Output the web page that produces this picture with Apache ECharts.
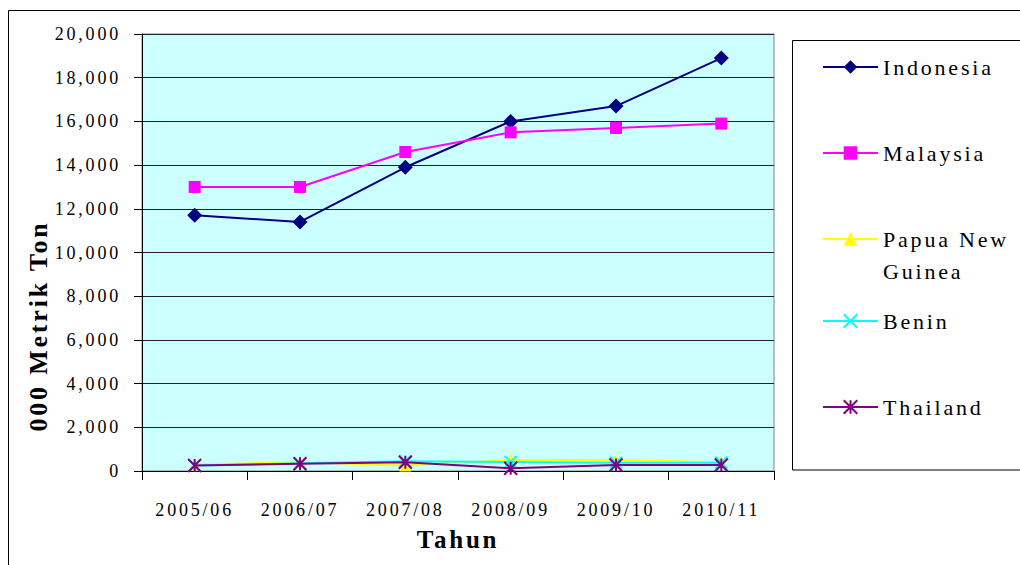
<!DOCTYPE html>
<html>
<head>
<meta charset="utf-8">
<script src="https://cdn.jsdelivr.net/npm/echarts@6/dist/echarts.min.js"></script>
<style>
  html, body { margin: 0; padding: 0; background: #fff; }
  #chart { width: 1020px; height: 565px; }
  #chart svg text { letter-spacing: 2.8px; }
</style>
</head>
<body>
<div id="chart"></div>
<script>
const categories = ['2005/06', '2006/07', '2007/08', '2008/09', '2009/10', '2010/11'];
const indonesia = [11700, 11400, 13900, 16000, 16700, 18900];
const malaysia = [13000, 13000, 14600, 15500, 15700, 15900];
const papuaNewGuinea = [300, 400, 250, 500, 500, 400];
const benin = [250, 350, 450, 410, 380, 380];
const thailand = [250, 330, 400, 125, 275, 275];

const seriesNames = ['Indonesia', 'Malaysia', 'Papua New Guinea', 'Benin', 'Thailand'];
const seriesValues = [indonesia, malaysia, papuaNewGuinea, benin, thailand];
const seriesColors = ['#000080', '#FF00FF', '#FFFF00', '#00FFFF', '#800080'];
const seriesSymbols = [
  'diamond',
  'rect',
  'triangle',
  'path://M0,0L10,10M10,0L0,10',
  'path://M5,0L5,10M0,0L10,10M10,0L0,10'
];
const symbolSizes = [15, 12, 12, 12, 13];
const legendTops = [51, 137, 191, 305, 391];

const FONT = '"Liberation Serif", "Times New Roman", serif';

const chart = echarts.init(document.getElementById('chart'), null, { renderer: 'svg' });

const series = seriesNames.map((name, i) => {
  const isPath = seriesSymbols[i].startsWith('path://');
  return {
    name: name,
    type: 'line',
    data: seriesValues[i],
    symbol: seriesSymbols[i],
    symbolSize: symbolSizes[i],
    showAllSymbol: true,
    lineStyle: { color: seriesColors[i], width: 2 },
    itemStyle: isPath
      ? { color: seriesColors[i], borderColor: seriesColors[i], borderWidth: 2 }
      : { color: seriesColors[i], borderWidth: 0 },
    emphasis: { disabled: true },
    z: 2 + i
  };
});

const legends = seriesNames.map((name, i) => ({
  data: [name],
  orient: 'vertical',
  left: 822,
  top: legendTops[i],
  padding: 0,
  itemWidth: 55,
  itemHeight: 17,
  formatter: n => n === 'Papua New Guinea' ? '\nPapua New\nGuinea' : n,
  textStyle: { fontFamily: FONT, fontSize: 22, color: '#000', lineHeight: 32 }
}));

chart.setOption({
  animation: false,
  backgroundColor: '#fff',
  grid: {
    left: 142, right: 246, top: 34, bottom: 94,
    show: true, backgroundColor: '#CCFFFF', borderColor: '#808080', borderWidth: 1
  },
  legend: legends,
  xAxis: {
    type: 'category',
    data: categories,
    boundaryGap: true,
    name: 'Tahun',
    nameLocation: 'middle',
    nameGap: 56,
    nameTextStyle: { fontFamily: FONT, fontSize: 25, fontWeight: 'bold', color: '#000' },
    axisLine: { lineStyle: { color: '#000', width: 1 } },
    axisTick: { show: true, length: 9, inside: false, lineStyle: { color: '#000' } },
    axisLabel: { margin: 30, fontFamily: FONT, fontSize: 18, color: '#000' }
  },
  yAxis: {
    type: 'value',
    min: 0, max: 20000, interval: 2000,
    axisLine: { show: true, lineStyle: { color: '#000', width: 1 } },
    axisTick: { show: true, length: 8, inside: false, lineStyle: { color: '#000' } },
    axisLabel: {
      margin: 21, fontFamily: FONT, fontSize: 18, color: '#000',
      formatter: v => v.toLocaleString('en-US')
    },
    splitLine: { show: true, lineStyle: { color: '#222', width: 1 } }
  },
  graphic: [
    {
      type: 'rect', silent: true, z: -1,
      shape: { x: 8.5, y: 10.5, width: 1040, height: 600 },
      style: { fill: 'none', stroke: '#000', lineWidth: 1 }
    },
    {
      type: 'rect', silent: true, z: -1,
      shape: { x: 792.5, y: 40.5, width: 300, height: 429.5 },
      style: { fill: '#fff', stroke: '#000', lineWidth: 1 }
    },
    {
      type: 'text', silent: true,
      x: 38, y: 326, rotation: Math.PI / 2,
      style: {
        text: '000 Metrik Ton', fontFamily: FONT, fontSize: 26, fontWeight: 'bold',
        fill: '#000', align: 'center', verticalAlign: 'middle'
      }
    }
  ],
  series: series
});
</script>
</body>
</html>
